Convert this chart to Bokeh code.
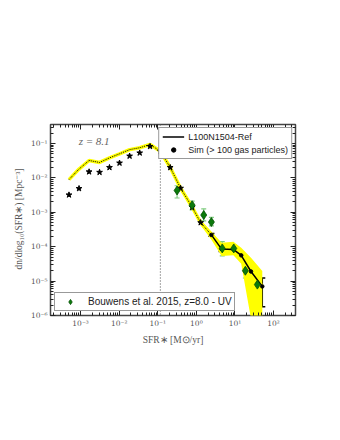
import math
from bokeh.plotting import figure
from bokeh.models import (LogAxis, FixedTicker, CustomJSTickFormatter, Whisker, TeeHead,
                          ColumnDataSource, Span, Label, Legend, LegendItem)
from bokeh.embed import file_html
from bokeh.resources import INLINE

# ---------------- data ----------------
sfr_sim = [5.0e-4, 9.1e-4, 1.66e-3, 3.1e-3, 5.6e-3, 1.02e-2, 1.86e-2, 3.4e-2, 6.3e-2, 0.117,
           0.21, 0.39, 0.78, 1.29, 2.45, 4.5, 9.1, 14.5, 26.0, 51.0]
phi_sim = [8.9e-3, 1.8e-2, 3.2e-2, 2.8e-2, 3.8e-2, 5.0e-2, 6.6e-2, 7.5e-2, 9.3e-2, 5.9e-2,
           2.0e-2, 5.0e-3, 1.4e-3, 5.0e-4, 2.2e-4, 8.5e-5, 8.3e-5, 5.6e-5, 1.9e-5, 7.0e-6]
# stars (all galaxies) for the low-SFR bins
sfr_star = [5.0e-4, 9.1e-4, 1.66e-3, 3.1e-3, 5.6e-3, 1.02e-2, 1.86e-2, 3.4e-2, 6.3e-2, 0.117,
            0.21, 0.39, 0.78, 1.29]
phi_star = [3.2e-3, 4.9e-3, 1.5e-2, 1.45e-2, 2.0e-2, 2.7e-2, 4.3e-2, 5.3e-2, 8.2e-2, 5.9e-2,
            2.0e-2, 5.0e-3, 1.4e-3, 5.0e-4]
# resolved part (> 100 gas particles) with error bars
sfr_res = [2.45, 4.5, 9.1, 14.5, 26.0, 51.0]
phi_res = [2.2e-4, 8.5e-5, 8.3e-5, 5.6e-5, 1.9e-5, 7.0e-6]
phi_res_lo = [2.0e-4, 7.3e-5, 7.2e-5, 4.6e-5, 1.3e-5, 1.8e-6]
phi_res_hi = [2.4e-4, 9.9e-5, 9.5e-5, 6.8e-5, 2.9e-5, 1.23e-5]
# scatter band
sfr_band = [0.78, 1.29, 2.45, 4.5, 9.1, 14.5, 26.0, 51.0]
band_lo = [1.2e-3, 4.2e-4, 1.6e-4, 5.4e-5, 5.6e-5, 3.2e-5, 8.0e-7, 1.0e-9]
band_hi = [1.6e-3, 6.0e-4, 2.75e-4, 1.3e-4, 1.4e-4, 9.3e-5, 4.8e-5, 1.95e-5]
# Bouwens et al. 2015, z=8.0 - UV
sfr_obs = [0.316, 0.776, 1.55, 2.45, 4.68, 9.3, 18.6, 38.0]
phi_obs = [4.3e-3, 1.6e-3, 8.3e-4, 5.2e-4, 8.9e-5, 8.9e-5, 2.0e-5, 7.9e-6]
phi_obs_lo = [2.6e-3, 1.17e-3, 5.6e-4, 4.0e-4, 5.4e-5, 6.4e-5, 1.23e-5, 3.2e-6]
phi_obs_hi = [5.9e-3, 2.1e-3, 1.26e-3, 7.1e-4, 1.4e-4, 1.15e-4, 3.1e-5, 1.38e-5]
sfr_limit = 0.117
redshift_text = "z = 8.1"

# ---------------- figure ----------------
p = figure(x_axis_type="log", y_axis_type="log",
           x_range=(1.66e-4, 3.7e2), y_range=(1e-6, 0.355),
           frame_width=245, frame_height=191,
           min_border_left=50, min_border_right=29, min_border_top=124, min_border_bottom=33,
           output_backend="svg", toolbar_location=None)
p.background_fill_color = "white"
p.border_fill_color = "white"
p.outline_line_color = "#444444"
p.outline_line_width = 1.5
p.xgrid.visible = False
p.ygrid.visible = False

xmaj = [10.0 ** k for k in range(-3, 3)]
xmin = [m * 10.0 ** k for k in range(-4, 3) for m in range(2, 10)]
ymaj = [10.0 ** k for k in range(-6, 0)]
ymin = [m * 10.0 ** k for k in range(-6, 0) for m in range(2, 10)]

fmt_code = """
const e = Math.round(Math.log10(tick));
const sup = {"-":"\u207b","0":"\u2070","1":"\u00b9","2":"\u00b2","3":"\u00b3","4":"\u2074","5":"\u2075","6":"\u2076","7":"\u2077","8":"\u2078","9":"\u2079"};
return "10" + String(e).split("").map(c => sup[c]).join("");
"""

def style_axis(ax, labels=True):
    ax.axis_line_color = None
    ax.major_tick_in = 5
    ax.major_tick_out = 0
    ax.minor_tick_in = 3
    ax.minor_tick_out = 0
    ax.major_tick_line_color = "#222222"
    ax.minor_tick_line_color = "#222222"
    ax.major_tick_line_width = 1
    ax.minor_tick_line_width = 1
    if labels:
        ax.formatter = CustomJSTickFormatter(code=fmt_code)
        ax.major_label_text_font = "DejaVu Serif"
        ax.major_label_text_font_size = "7.5px"
        ax.major_label_text_color = "#555555"
        ax.major_label_standoff = 3
        ax.axis_label_text_font = "Liberation Serif"
        ax.axis_label_text_font_size = "9.5px"
        ax.axis_label_text_font_style = "normal"
        ax.axis_label_text_color = "#555555"
        ax.axis_label_standoff = 4
    else:
        ax.major_label_text_font_size = "0px"
        ax.major_label_text_alpha = 0

xax = p.xaxis[0]
yax = p.yaxis[0]
xax.ticker = FixedTicker(ticks=xmaj, minor_ticks=xmin)
yax.ticker = FixedTicker(ticks=ymaj, minor_ticks=ymin)
style_axis(xax)
style_axis(yax)
xax.axis_label = "SFR\u2217 [M\u2299/yr]"
yax.axis_label = "dn/dlog\u2081\u2080(SFR\u2217) [Mpc\u207b\u00b3]"

top = LogAxis(ticker=FixedTicker(ticks=xmaj, minor_ticks=xmin))
right = LogAxis(ticker=FixedTicker(ticks=ymaj, minor_ticks=ymin))
style_axis(top, labels=False)
style_axis(right, labels=False)
p.add_layout(top, "above")
p.add_layout(right, "right")

# ---------------- glyphs ----------------
yellow = "#ffff00"
p.varea(x=sfr_band, y1=band_lo, y2=band_hi, fill_color=yellow)
p.line(sfr_sim, phi_sim, line_color=yellow, line_width=3.5)
n_dot = len(sfr_sim) - len(sfr_res) + 1
p.line(sfr_sim[:n_dot], phi_sim[:n_dot], line_color="black", line_width=1, line_dash="1 1")
r_black = p.line(sfr_res, phi_res, line_color="black", line_width=1.5)

p.scatter(sfr_star, phi_star, marker="star", size=6, fill_color="black", line_color="black")

res_src = ColumnDataSource(dict(x=sfr_res, y=phi_res, lo=phi_res_lo, hi=phi_res_hi))
p.add_layout(Whisker(source=res_src, base="x", lower="lo", upper="hi", dimension="height",
                     line_color="black", line_width=1.5,
                     upper_head=TeeHead(size=6, line_color="black", line_width=1.5),
                     lower_head=TeeHead(size=6, line_color="black", line_width=1.5)))
r_dot = p.scatter("x", "y", source=res_src, marker="circle", size=3.5, color="black")

obs_src = ColumnDataSource(dict(x=sfr_obs, y=phi_obs, lo=phi_obs_lo, hi=phi_obs_hi))
lg = "#80cc80"
p.add_layout(Whisker(source=obs_src, base="x", lower="lo", upper="hi", dimension="height",
                     line_color=lg, line_width=1.2,
                     upper_head=TeeHead(size=5, line_color=lg, line_width=1.2),
                     lower_head=TeeHead(size=5, line_color=lg, line_width=1.2)))
r_obs = p.scatter("x", "y", source=obs_src, marker="diamond", size=9,
                  fill_color="#0b7a0b", line_color="#045004", line_width=0.8)

p.add_layout(Span(location=sfr_limit, dimension="height", line_color="#666666",
                  line_width=1.2, line_dash="1 2"))

p.add_layout(Label(x=8.9e-4, y=0.078, text=redshift_text, text_font="Liberation Serif",
                   text_font_size="11px", text_color="#666666", text_font_style="italic"))

# ---------------- legends ----------------
leg1 = Legend(items=[LegendItem(label="L100N1504-Ref", renderers=[r_black]),
                     LegendItem(label="Sim (> 100 gas particles)", renderers=[r_dot])],
              location="top_right", margin=3, padding=3, spacing=2,
              glyph_width=22, glyph_height=11, label_height=11, label_standoff=4,
              label_text_font="Liberation Sans", label_text_font_size="9px",
              label_text_color="#222222",
              border_line_color="#333333", border_line_width=1.2,
              background_fill_color="white", background_fill_alpha=1)
leg2 = Legend(items=[LegendItem(label="Bouwens et al. 2015, z=8.0 - UV",
                                renderers=[r_obs])],
              location="bottom_left", margin=4, padding=2, spacing=2,
              glyph_width=26, glyph_height=13, label_height=12, label_standoff=5,
              label_text_font="Liberation Sans", label_text_font_size="10px",
              label_text_color="#222222",
              border_line_color="#333333", border_line_width=1.2,
              background_fill_color="white", background_fill_alpha=1)
p.add_layout(leg1)
p.add_layout(leg2)

open("out.html", "w").write(file_html(p, INLINE))
